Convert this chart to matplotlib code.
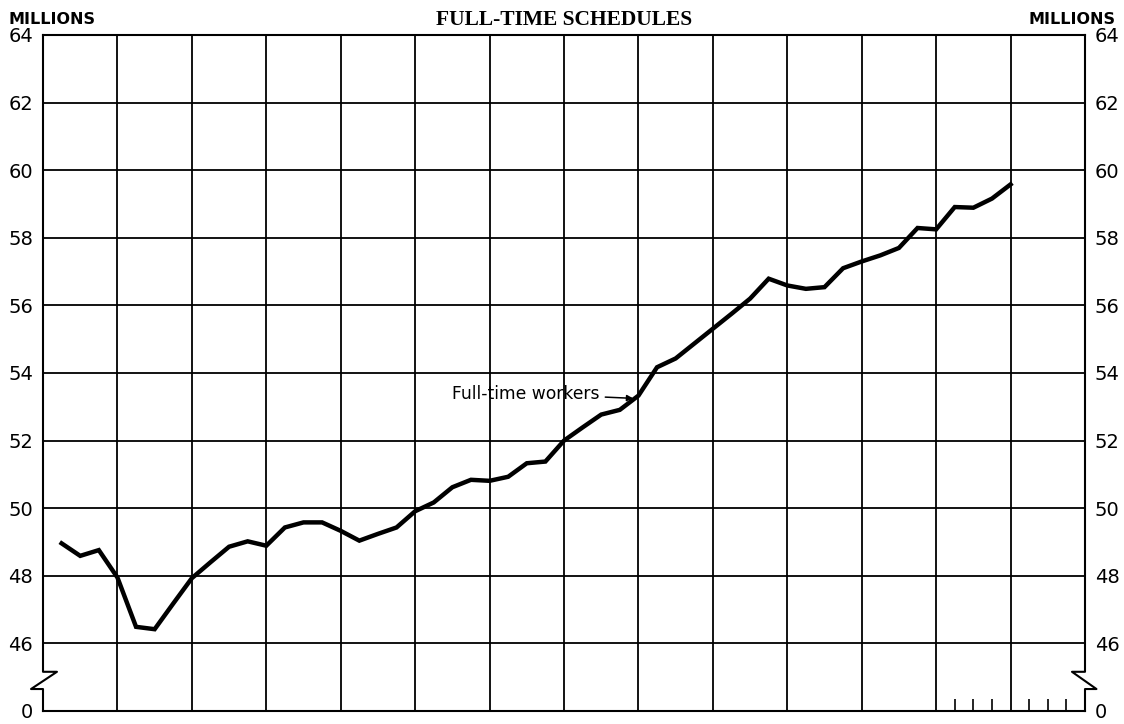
import numpy as np
import matplotlib
matplotlib.use("Agg")
import matplotlib.pyplot as plt

# quarterly full-time workers, millions (one column = one year)
full_time = [48.96, 48.59, 48.76, 47.95,
             46.49, 46.42, 47.18, 47.93,
             48.40, 48.86, 49.02, 48.89,
             49.43, 49.58, 49.58, 49.33,
             49.04, 49.24, 49.43, 49.91,
             50.17, 50.62, 50.84, 50.81,
             50.93, 51.33, 51.38, 52.00,
             52.39, 52.77, 52.91, 53.33,
             54.17, 54.43, 54.87, 55.31,
             55.75, 56.20, 56.79, 56.59,
             56.49, 56.54, 57.10, 57.30,
             57.48, 57.70, 58.29, 58.25,
             58.91, 58.89, 59.16, 59.58]
n_years = 14
ytick_vals = [44, 46, 48, 50, 52, 54, 56, 58, 60, 62, 64]
ytick_labels = ["0", "46", "48", "50", "52", "54", "56", "58", "60", "62", "64"]
quarter_ticks = [12.25, 12.5, 12.75, 13.25, 13.5, 13.75]

x = np.arange(1, len(full_time) + 1) / 4

fig = plt.figure(figsize=(11.24, 7.24), dpi=100)
ax = fig.add_axes([43 / 1124, 1 - 711 / 724, 1042 / 1124, 676 / 724])

ax.plot(x, full_time, color="black", linewidth=3.2, solid_joinstyle="miter")

ax.set_xlim(0, n_years)
ax.set_ylim(44, 64)
ax.set_xticks(range(1, n_years))
ax.set_xticks(quarter_ticks, minor=True)
ax.set_yticks(ytick_vals)
ax.set_yticklabels(ytick_labels)
ax.tick_params(axis="x", which="major", length=0, labelbottom=False)
ax.tick_params(axis="x", which="minor", direction="in", length=8.5, width=1.2)
ax.tick_params(axis="y", length=0, pad=7, labelsize=14, right=True, labelright=True)
ax.grid(True, which="major", color="black", linewidth=1.3)

for side in ["left", "right"]:
    ax.spines[side].set_visible(False)
for side in ["top", "bottom"]:
    ax.spines[side].set_linewidth(1.5)

# axis lines with the scale-break zigzag
tr = ax.get_yaxis_transform()
ax.plot([0, 0, 0.0134, -0.0115, 0, 0], [64, 45.16, 45.16, 44.65, 44.65, 44],
        transform=tr, color="black", linewidth=1.5, clip_on=False)
ax.plot([1, 1, 0.9875, 1.011, 1, 1], [64, 45.16, 45.16, 44.65, 44.65, 44],
        transform=tr, color="black", linewidth=1.5, clip_on=False)

ax.annotate("Full-time workers", xy=(7.93, 53.25), xytext=(7.48, 53.39),
            ha="right", va="center", fontsize=12.3,
            arrowprops=dict(arrowstyle="-|>", color="black", lw=1.1,
                            mutation_scale=9, shrinkA=2, shrinkB=0))

fig.text(8 / 1124, 1 - 24 / 724, "MILLIONS", ha="left", va="baseline",
         fontsize=11.5, fontweight="bold")
fig.text(1115 / 1124, 1 - 24 / 724, "MILLIONS", ha="right", va="baseline",
         fontsize=11.5, fontweight="bold")
fig.text(564 / 1124, 1 - 25 / 724, "FULL-TIME SCHEDULES", ha="center",
         va="baseline", fontsize=15.5, fontweight="bold", family="Liberation Serif")

fig.savefig("out.png", dpi=100)
